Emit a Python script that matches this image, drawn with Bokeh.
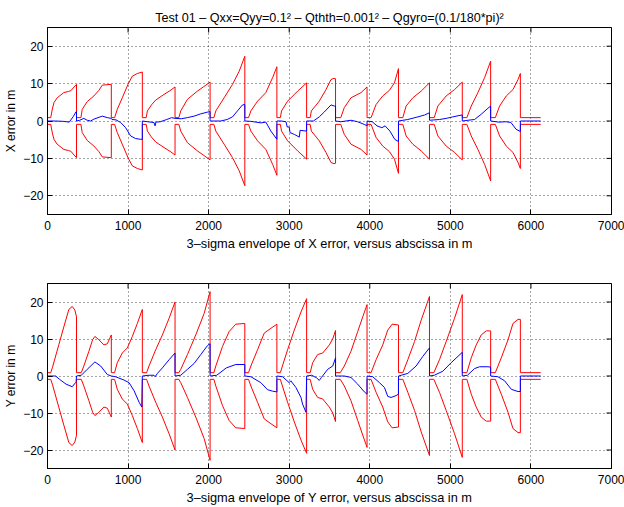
import math
from bokeh.plotting import figure
from bokeh.layouts import column
from bokeh.models import FixedTicker, Range1d
from bokeh.embed import file_html
from bokeh.resources import INLINE

TITLE = "Test 01 – Qxx=Qyy=0.1² – Qthth=0.001² – Qgyro=(0.1/180*pi)²"
X_LABEL_TOP = "3–sigma envelope of X error, versus abscissa in m"
X_LABEL_BOT = "3–sigma envelope of Y error, versus abscissa in m"
Y_LABEL_TOP = "X error in m"
Y_LABEL_BOT = "Y error in m"

X_MIN, X_MAX = 0, 7000
Y_MIN, Y_MAX = -25, 25
x_ticks = [0, 1000, 2000, 3000, 4000, 5000, 6000, 7000]
y_ticks = [-20, -10, 0, 10, 20]
y_tick_text = {-20: "−20", -10: "−10", 0: "0", 10: "10", 20: "20"}

# 3-sigma envelope of X error (abscissa m, sigma m) - drawn as +/-
x_env = [
    (0, 0.9), (40, 0.9), (60, 3.2), (80, 4.9), (120, 6.2), (203, 7.6), (260, 7.9), (290, 8.1), (330, 9.1), (360, 9.8),
    (360, 0.9), (415, 0.9), (431, 3.1), (493, 5.2), (576, 6.7), (638, 8.2), (680, 9.6), (792, 9.8),
    (792, 0.9), (833, 0.9), (866, 3.1), (928, 6.2), (999, 9.8), (1053, 12.0), (1115, 12.7), (1177, 13.1),
    (1177, 0.9), (1225, 0.9), (1240, 2.7), (1290, 4.3), (1343, 5.6), (1446, 7.1), (1520, 8.1), (1583, 9.1),
    (1583, 0.9), (1630, 0.9), (1654, 2.7), (1737, 5.8), (1861, 8.0), (1940, 9.2), (2018, 10.4),
    (2018, 0.9), (2065, 0.9), (2089, 2.7), (2192, 6.2), (2296, 9.8), (2379, 13.3), (2449, 17.3),
    (2449, 0.9), (2495, 0.9), (2524, 2.7), (2607, 5.3), (2710, 7.6), (2794, 11.6), (2847, 14.5),
    (2847, 0.9), (2890, 0.9), (2905, 2.7), (2980, 5.3), (3105, 8.0), (3216, 10.2),
    (3216, 0.9), (3260, 0.9), (3275, 2.7), (3373, 5.3), (3456, 8.4), (3519, 11.1), (3555, 11.4), (3575, 11.3),
    (3575, 0.9), (3640, 0.9), (3684, 3.6), (3767, 6.2), (3892, 7.6), (3966, 9.1),
    (3966, 0.9), (4016, 0.9), (4078, 4.4), (4161, 6.7), (4244, 8.2), (4306, 10.2), (4356, 14.0),
    (4356, 0.9), (4410, 0.9), (4451, 4.0), (4534, 6.2), (4638, 8.0), (4741, 10.2),
    (4741, 0.9), (4800, 0.9), (4845, 4.0), (4948, 6.7), (5052, 8.4), (5148, 10.4),
    (5148, 0.9), (5205, 0.9), (5259, 4.0), (5342, 7.6), (5425, 11.6), (5500, 16.0),
    (5500, 0.9), (5558, 0.9), (5611, 4.0), (5694, 6.7), (5777, 8.4), (5840, 11.1), (5869, 12.7),
    (5869, 0.9), (6121, 0.9),
]

# X error (abscissa m, error m)
x_err = [
    (0, 0.0), (100, 0.0), (200, -0.1), (270, -0.3), (320, 1.2), (355, 2.5), (360, 2.5),
    (360, 0.0), (400, 0.2), (451, 0.7), (493, 0.2), (535, 0.0), (576, 0.5), (680, 1.3), (742, 0.9), (792, 0.7),
    (800, 0.4), (850, 0.3), (908, -0.4), (970, -1.8), (1032, -4.0), (1094, -4.7), (1156, -4.9), (1177, -4.9),
    (1177, 0.0), (1240, -0.2), (1322, -0.4), (1335, -1.3), (1345, -0.3), (1400, -0.2), (1480, 0.4), (1540, 0.9), (1583, 0.7),
    (1660, 0.6), (1737, 0.9), (1820, 1.3), (1900, 1.9), (1990, 2.4), (2018, 2.5),
    (2018, 0.0), (2150, 0.0), (2230, 0.4), (2296, 1.1), (2358, 2.7), (2420, 4.3), (2449, 4.4),
    (2449, 0.0), (2524, -0.1), (2650, -0.5), (2710, -0.3), (2773, -2.7), (2847, -4.9),
    (2847, 0.0), (2900, 0.0), (2960, -0.2), (2975, -1.6), (3000, -1.6), (3010, -3.1), (3065, -3.6), (3125, -4.3), (3135, -2.5), (3216, -2.7),
    (3216, 0.0), (3300, 0.0), (3373, 1.1), (3435, 2.4), (3519, 4.3), (3560, 4.0), (3575, 4.0),
    (3575, 0.0), (3640, -0.2), (3767, 0.2), (3850, -0.2), (3930, -0.9), (3966, -1.3),
    (3966, 0.0), (4030, -0.2), (4090, -1.3), (4150, -1.8), (4190, -1.3), (4250, -2.7), (4310, -4.9), (4356, -5.5),
    (4356, 0.0), (4472, 0.4), (4597, 1.1), (4680, 1.6), (4741, 2.2),
    (4741, 0.2), (4865, 0.4), (4948, 0.7), (5030, 1.1), (5140, 1.6), (5148, 1.6),
    (5148, 0.0), (5220, 0.2), (5300, 0.4), (5383, 1.8), (5466, 3.4), (5500, 4.0),
    (5500, 0.0), (5600, -0.3), (5690, -0.2), (5752, -0.4), (5815, -2.2), (5869, -2.8),
    (5869, 0.0), (6121, 0.0),
]

# 3-sigma envelope of Y error
y_env = [
    (0, 0.9), (40, 0.9), (60, 2.2), (141, 8.5), (203, 13.3), (265, 18.0), (307, 18.8), (340, 17.8), (360, 16.0),
    (360, 0.9), (419, 0.9), (451, 2.7), (514, 6.7), (560, 9.8), (588, 10.7), (638, 9.8), (700, 8.4), (742, 8.7), (792, 11.1),
    (792, 0.9), (833, 0.9), (866, 3.6), (928, 6.2), (991, 7.6), (1053, 10.7), (1115, 14.2), (1177, 18.0),
    (1177, 0.9), (1230, 0.9), (1260, 2.7), (1343, 7.1), (1426, 11.1), (1509, 15.6), (1583, 20.0),
    (1583, 0.9), (1630, 0.9), (1654, 1.8), (1737, 5.8), (1840, 11.1), (1944, 16.9), (2018, 22.8),
    (2018, 0.9), (2065, 0.9), (2089, 2.7), (2172, 8.0), (2254, 12.0), (2337, 14.0), (2449, 14.2),
    (2449, 0.9), (2495, 0.9), (2524, 2.7), (2607, 7.1), (2690, 11.6), (2773, 12.9), (2847, 14.0),
    (2847, 0.9), (2890, 0.9), (2920, 3.0), (2980, 7.1), (3063, 12.4), (3146, 17.3), (3216, 20.9),
    (3216, 0.9), (3260, 0.9), (3291, 3.6), (3353, 5.8), (3415, 6.2), (3498, 8.4), (3540, 10.0), (3575, 12.3),
    (3575, 0.9), (3634, 0.9), (3684, 2.7), (3767, 6.7), (3850, 12.0), (3913, 16.0), (3966, 19.3),
    (3966, 0.9), (4016, 0.9), (4078, 4.4), (4161, 8.4), (4223, 12.4), (4277, 14.0), (4356, 13.8),
    (4356, 0.9), (4410, 0.9), (4472, 4.4), (4555, 9.3), (4638, 15.1), (4741, 21.5),
    (4741, 0.9), (4795, 0.9), (4865, 4.4), (4948, 9.3), (5052, 15.6), (5148, 22.0),
    (5148, 0.9), (5205, 0.9), (5259, 4.9), (5321, 8.4), (5383, 11.1), (5445, 12.2), (5500, 12.2),
    (5500, 0.9), (5558, 0.9), (5632, 4.9), (5716, 9.8), (5777, 14.2), (5840, 15.3), (5869, 15.3),
    (5869, 0.9), (6121, 0.9),
]

# Y error
y_err = [
    (0, 0.0), (100, 0.0), (150, -0.9), (230, -2.2), (307, -2.9), (348, -1.8), (355, -1.5),
    (360, 0.0), (420, 0.2), (493, 1.8), (588, 3.8), (660, 2.7), (742, 0.4), (792, 0.0),
    (845, -0.2), (950, -1.1), (1012, -1.8), (1075, -4.0), (1137, -7.1), (1170, -8.4),
    (1177, 0.0), (1260, 0.2), (1322, 0.2), (1335, -0.2), (1364, 0.7), (1426, 2.2), (1509, 4.4), (1583, 6.2),
    (1583, 0.0), (1654, 0.2), (1737, 1.8), (1820, 3.4), (1903, 5.8), (1985, 8.2), (2018, 8.7),
    (2018, 0.0), (2100, 0.2), (2220, 2.2), (2337, 3.1), (2449, 3.1),
    (2449, 0.0), (2524, -0.2), (2648, -1.8), (2731, -3.7), (2794, -4.1), (2847, -4.3),
    (2847, 0.0), (2918, -0.2), (3000, -1.8), (3020, -1.3), (3083, -3.1), (3146, -5.8), (3166, -7.6), (3208, -9.8),
    (3216, 0.0), (3280, 0.2), (3340, -0.5), (3373, -1.2), (3400, -0.4), (3477, 1.8), (3540, 2.7), (3575, 4.9),
    (3575, 0.0), (3684, 0.0), (3767, -0.4), (3850, -2.2), (3933, -4.3), (3966, -4.9),
    (3966, 0.0), (4037, -0.2), (4120, -1.8), (4182, -3.1), (4223, -5.5), (4264, -5.8), (4326, -5.3), (4356, -4.9),
    (4356, 0.0), (4390, 0.2), (4472, 0.7), (4575, 2.7), (4658, 5.3), (4741, 7.6),
    (4741, 0.0), (4800, 0.2), (4907, 1.3), (5010, 3.6), (5148, 6.4),
    (5148, 0.0), (5212, 0.2), (5300, 2.0), (5362, 2.5), (5466, 2.5), (5500, 2.4),
    (5500, 0.0), (5590, -0.2), (5673, -1.3), (5757, -3.6), (5840, -4.2), (5869, -4.2),
    (5869, 0.0), (6121, 0.0),
]

FONT = "Liberation Sans"


def make_panel(env, err, ylab, xlab, height, b_top, b_bot, title=None):
    p = figure(width=624, height=height, x_range=Range1d(X_MIN, X_MAX), y_range=Range1d(Y_MIN, Y_MAX),
               output_backend="svg", toolbar_location=None,
               min_border_left=47, min_border_right=13, min_border_top=b_top, min_border_bottom=b_bot)
    p.background_fill_color = "white"
    p.border_fill_color = "white"
    p.outline_line_color = "black"
    p.outline_line_width = 1
    p.outline_line_alpha = 1

    if title:
        p.title.text = title
        p.title.text_font = FONT
        p.title.text_font_size = "12.6px"
        p.title.text_font_style = "normal"
        p.title.text_color = "black"
        p.title.align = "center"
        p.title.standoff = 6

    xa = p.xaxis[0]
    ya = p.yaxis[0]
    xa.ticker = FixedTicker(ticks=x_ticks)
    ya.ticker = FixedTicker(ticks=y_ticks)
    ya.major_label_overrides = y_tick_text
    for ax in (xa, ya):
        ax.axis_line_color = "black"
        ax.axis_line_width = 1
        ax.major_tick_in = 5
        ax.major_tick_out = 0
        ax.major_tick_line_color = "black"
        ax.minor_tick_line_color = None
        ax.major_label_text_font = FONT
        ax.major_label_text_font_size = "12px"
        ax.major_label_text_color = "black"
        ax.axis_label_text_font = FONT
        ax.axis_label_text_font_size = "12.8px"
        ax.axis_label_text_font_style = "normal"
        ax.axis_label_text_color = "black"
    xa.major_label_standoff = 6
    ya.major_label_standoff = 4
    xa.axis_label = xlab
    ya.axis_label = ylab
    ya.axis_label_text_font_size = "12px"
    xa.axis_label_standoff = 3
    ya.axis_label_standoff = 2

    for g, t in ((p.xgrid[0], x_ticks), (p.ygrid[0], y_ticks)):
        g.ticker = FixedTicker(ticks=t)
        g.grid_line_color = "black"
        g.grid_line_alpha = 0.7
        g.grid_line_dash = "1 3"
        g.grid_line_width = 1

    # inward tick marks on the top and right edges (box style), clipped to the frame
    p.scatter(x_ticks, [Y_MAX] * len(x_ticks), marker="dash", angle=math.pi / 2, size=10,
              line_color="black", line_width=1)
    p.scatter([X_MAX] * len(y_ticks), y_ticks, marker="dash", size=10,
              line_color="black", line_width=1)

    ex = [a for a, b in env]
    ev = [b for a, b in env]
    p.line(ex, ev, line_color="#ff0000", line_width=1)
    p.line(ex, [-v for v in ev], line_color="#ff0000", line_width=1)
    p.line([a for a, b in err], [b for a, b in err], line_color="#0000ff", line_width=1)
    return p


p1 = make_panel(x_env, x_err, Y_LABEL_TOP, X_LABEL_TOP, 253, 27, 39, TITLE)
p2 = make_panel(y_env, y_err, Y_LABEL_BOT, X_LABEL_BOT, 254, 30, 37)

layout = column(p1, p2)
open("out.html", "w").write(file_html(layout, INLINE))
